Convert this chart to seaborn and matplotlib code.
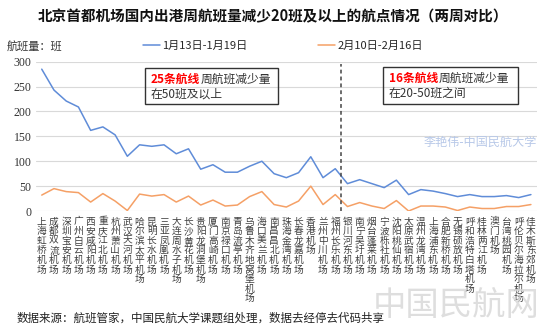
import numpy as np
import pandas as pd
import matplotlib
matplotlib.use("Agg")
import matplotlib.pyplot as plt
import seaborn as sns

airports = ["上海虹桥机场", "成都双流机场", "深圳宝安机场", "广州白云机场", "西安咸阳机场",
            "重庆江北机场", "杭州萧山机场", "武汉天河机场", "哈尔滨太平机场", "昆明长水机场",
            "三亚凤凰机场", "大连周水子机场", "长沙黄花机场", "贵阳龙洞堡机场", "厦门高崎机场",
            "南京禄口机场", "青岛流亭机场", "乌鲁木齐地窝堡机场", "海口美兰机场", "南昌昌北机场",
            "珠海金湾机场", "长春龙嘉机场", "香港机场", "兰州中川机场", "福州长乐机场",
            "银川河东机场", "南宁吴圩机场", "烟台蓬莱机场", "宁波栎社机场", "沈阳桃仙机场",
            "太原武宿机场", "温州龙湾机场", "上海浦东机场", "合肥新桥机场", "无锡硕放机场",
            "呼和浩特白塔机场", "桂林两江机场", "澳门机场", "台湾桃园机场", "呼伦贝尔海拉尔机场",
            "佳木斯东郊机场"]
week_jan = [285, 243, 221, 209, 162, 169, 153, 110, 133, 130,
            133, 115, 125, 84, 93, 78, 78, 90, 100, 75,
            67, 77, 109, 67, 85,
            55, 63, 55, 47, 62, 33, 43, 40, 35, 29,
            33, 29, 29, 31, 27, 33]
week_feb = [32, 45, 39, 37, 18, 35, 20, 1, 34, 30,
            33, 18, 30, 12, 22, 10, 12, 29, 39, 13,
            8, 20, 50, 13, 33,
            9, 17, 10, 5, 21, 0, 10, 10, 8, 1,
            8, 5, 5, 9, 9, 13]
series_names = ["1月13日-1月19日", "2月10日-2月16日"]
yticks = [0, 50, 100, 150, 200, 250, 300]

df = pd.DataFrame({
    "airport": airports * 2,
    "flights": week_jan + week_feb,
    "period": [series_names[0]] * len(airports) + [series_names[1]] * len(airports),
})

sns.set_theme(style="white")
plt.rcParams["font.family"] = ["Noto Sans CJK SC", "DejaVu Sans"]

fig = plt.figure(figsize=(5.43, 3.31), dpi=100)
ax = fig.add_axes([0.0656, 0.3625, 0.9234, 0.4511])

palette = {series_names[0]: "#5F8CD8", series_names[1]: "#F5A066"}
sns.lineplot(data=df, x="airport", y="flights", hue="period", palette=palette,
             sort=False, linewidth=1.1, ax=ax, legend=True)

ax.set_xlim(-0.5, len(airports) - 0.5)
ax.set_ylim(0, 300)
ax.set_yticks(yticks)
ax.set_yticklabels([str(v) for v in yticks], fontfamily="Liberation Serif",
                   fontsize=8.5, color="#333333")
ax.set_xticks(range(len(airports)))
ax.set_xticklabels(["\n".join(a) for a in airports], fontsize=7, color="#404040",
                   linespacing=0.95, va="top")
ax.tick_params(axis="x", length=0, pad=4)
ax.tick_params(axis="y", length=0, pad=3)
ax.set_xlabel("")
ax.set_ylabel("")
for s in ax.spines.values():
    s.set_visible(False)
ax.yaxis.grid(True, color="#D9D9D9", linewidth=0.8)
ax.set_axisbelow(True)

# dashed divider between the two groups
ax.vlines(24.5, 0, 295, colors="#444444", linestyles=(0, (2.5, 2)), linewidth=1.1)

# legend
handles, labels = ax.get_legend_handles_labels()
ax.legend(handles, labels, loc="center left", bbox_to_anchor=(143 / 543, 1 - 46 / 331),
          bbox_transform=fig.transFigure, ncol=2, frameon=False, fontsize=8,
          handlelength=1.5, handletextpad=0.2, columnspacing=6.4,
          borderpad=0, borderaxespad=0)

# title and axis unit
fig.text(0.503, 1 - 16 / 331, "北京首都机场国内出港周航班量减少20班及以上的航点情况（两周对比）",
         ha="center", va="center", fontsize=10.5, fontweight="bold", color="#111111")
fig.text(7 / 543, 1 - 46 / 331, "航班量：班", ha="left", va="center", fontsize=8,
         color="#333333")

# annotation boxes
def note_box(x0, y0, x1, y1, red, rest, line2):
    rect = plt.Rectangle((x0 / 543, 1 - y1 / 331), (x1 - x0) / 543, (y1 - y0) / 331,
                         transform=fig.transFigure, fill=False, edgecolor="#333333",
                         linewidth=1.0)
    fig.add_artist(rect)
    t = fig.text((x0 + 6) / 543, 1 - (y0 + 11) / 331, red, color="#FF0000",
                 fontweight="bold", fontsize=8.5, va="center", ha="left")
    ax.annotate(rest, xy=(1, 0.5), xycoords=t, va="center", ha="left",
                fontsize=8.5, color="#333333")
    fig.text((x0 + 6) / 543, 1 - (y0 + 26) / 331, line2, color="#333333",
             fontsize=8.5, va="center", ha="left")

note_box(145, 68, 278, 104, "25条航线", "周航班减少量", "在50班及以上")
note_box(383, 67, 518, 104, "16条航线", "周航班减少量", "在20-50班之间")

# watermark texts
fig.text(537 / 543, 1 - 142 / 331, "李艳伟-中国民航大学", ha="right", va="center",
         fontsize=8.7, color="#B7C8E8")
fig.text(540 / 543, 1 - 305 / 331, "中国民航网", ha="right", va="center",
         fontsize=24, color="#D6D6D6", alpha=0.8)

# source note
fig.text(17 / 543, 1 - 318 / 331, "数据来源：航班管家，中国民航大学课题组处理，数据去经停去代码共享",
         ha="left", va="center", fontsize=8.3, color="#222222")

fig.savefig("out.png", dpi=100)
